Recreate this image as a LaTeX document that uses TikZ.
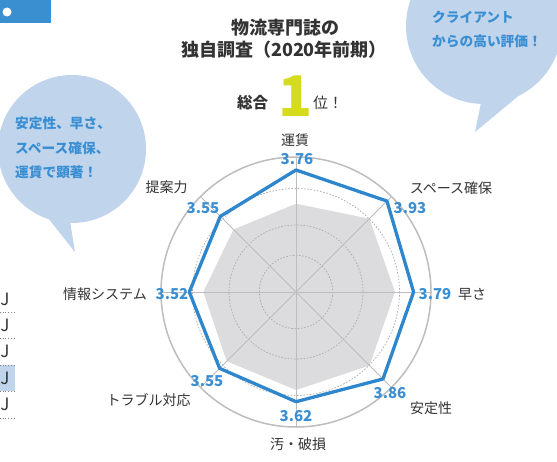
\documentclass[tikz,border=0pt]{standalone}
\usepackage{fontspec}
\setmainfont{Noto Sans CJK JP}
\usetikzlibrary{calc}
\definecolor{chartblue}{HTML}{2E86CD}
\definecolor{numblue}{HTML}{3A8FD3}
\definecolor{bubblefill}{HTML}{C0D4EC}
\definecolor{grayfill}{HTML}{DCDCDE}
\definecolor{axisgray}{HTML}{BDBDBD}
\definecolor{ringgray}{HTML}{ABABAB}
\definecolor{limegreen}{HTML}{D5DC1F}
\definecolor{txtgray}{HTML}{333333}
\definecolor{tagblue}{HTML}{3A8FD0}
\tikzset{
  axislabel/.style={inner sep=0pt, text=txtgray, font=\fontsize{14}{16}\selectfont},
  numlabel/.style={inner sep=0pt, text=numblue, font=\bfseries\fontsize{15}{17}\selectfont},
  bubbletext/.style={inner sep=0pt, text=numblue, align=left, anchor=west, font=\bfseries\fontsize{13.7}{24.5}\selectfont},
  titletext/.style={inner sep=0pt, text=txtgray, align=center, font=\bfseries\fontsize{18}{22}\selectfont},
  frag/.style={inner sep=0pt, text=txtgray, anchor=west, font=\fontsize{17}{19}\selectfont},
  rowline/.style={draw=gray, dotted, line width=0.7pt},
  ring/.style={draw=ringgray, line width=0.7pt, dash pattern=on 1.6pt off 1.6pt},
  spoke/.style={draw=axisgray, line width=0.8pt}
}
\begin{document}
\begin{tikzpicture}[x=1pt,y=-1pt]
\useasboundingbox (0,0) rectangle (557,462);
% top-left tag
\fill[tagblue] (0,0) rectangle (51,23);
\fill[white] (7,12) circle (4.5);
% left table fragments
\fill[bubblefill] (0,365) rectangle (15,391);
\foreach \yy in {312,338,365,391,418} \draw[rowline] (0,\yy) -- (15,\yy);
\node[frag] (f1) at (0.2,299) {J};
\node[frag] (f2) at (0.2,325) {J};
\node[frag] (f3) at (0.2,351) {J};
\node[frag] (f4) at (0.2,378) {J};
\node[frag] (f5) at (0.2,404) {J};
% left bubble
\fill[bubblefill] (72,149) circle (74);
\fill[bubblefill] (40,208) -- (75,252) -- (69,215) -- cycle;
\node[bubbletext] (lb) at (15,148) {安定性、早さ、\\スペース確保、\\運賃で顕著！};
% right bubble
\fill[bubblefill] (484,26) circle (78);
\fill[bubblefill] (482,98) -- (475,132) -- (540,78) -- cycle;
\node[bubbletext] (rb) at (432,29.5) {クライアント\\からの高い評価！};
% title
\node[titletext] (t1) at (285,28) {物流専門誌の};
\node[titletext] (t2) at (284,50) {独自調査（2020年前期）};
\node[inner sep=0pt, text=txtgray, font=\bfseries\fontsize{15.5}{17}\selectfont] (sogo) at (252.5,103) {総合};
\node[inner sep=0pt, text=limegreen, font=\bfseries\fontsize{56}{60}\selectfont] (one) at (295.5,96) {1};
\node[inner sep=0pt, text=txtgray, font=\fontsize{15}{17}\selectfont] (rank) at (328,103) {位！};
% chart
\begin{scope}[shift={(296,292)}]
  \coordinate (c) at (0,0);
  \fill[grayfill] (-90:88.3) -- (-45:103.7) -- (0:99) -- (45:104) -- (90:98) -- (135:98) -- (180:92.7) -- (225:88.4) -- cycle;
  \foreach \r in {36.7,67,103.5} \draw[ring] (c) circle (\r);
  \foreach \a in {0,45,...,315} {
    \coordinate (s\a) at (\a:135);
    \draw[spoke] (c) -- (s\a);
  }
  \draw[draw=axisgray, line width=1.5pt] (c) circle (135);
  \coordinate (v1) at (-90:122);
  \coordinate (v2) at (-45:128.6);
  \coordinate (v3) at (0:117.6);
  \coordinate (v4) at (45:123);
  \coordinate (v5) at (90:109.7);
  \coordinate (v6) at (135:108);
  \coordinate (v7) at (180:106.7);
  \coordinate (v8) at (225:107);
  \draw[chartblue, line width=3.3pt, line join=round] (v1) -- (v2) -- (v3) -- (v4) -- (v5) -- (v6) -- (v7) -- (v8) -- cycle;
\end{scope}
% axis labels
\node[axislabel] (l1) at (295,140) {運賃};
\node[numlabel] (n1) at (297,159) {3.76};
\node[axislabel] (l2) at (451,188) {スペース確保};
\node[numlabel] (n2) at (410,208) {3.93};
\node[axislabel] (l3) at (472,294) {早さ};
\node[numlabel] (n3) at (435,294) {3.79};
\node[axislabel] (l4) at (431,408) {安定性};
\node[numlabel] (n4) at (390,393) {3.86};
\node[axislabel] (l5) at (298,444) {汚・破損};
\node[numlabel] (n5) at (296,416) {3.62};
\node[axislabel] (l6) at (148.5,400) {トラブル対応};
\node[numlabel] (n6) at (207,381) {3.55};
\node[axislabel] (l7) at (105,294) {情報システム};
\node[numlabel] (n7) at (172,294) {3.52};
\node[axislabel] (l8) at (166.5,187) {提案力};
\node[numlabel] (n8) at (203,208) {3.55};
\end{tikzpicture}
\end{document}
